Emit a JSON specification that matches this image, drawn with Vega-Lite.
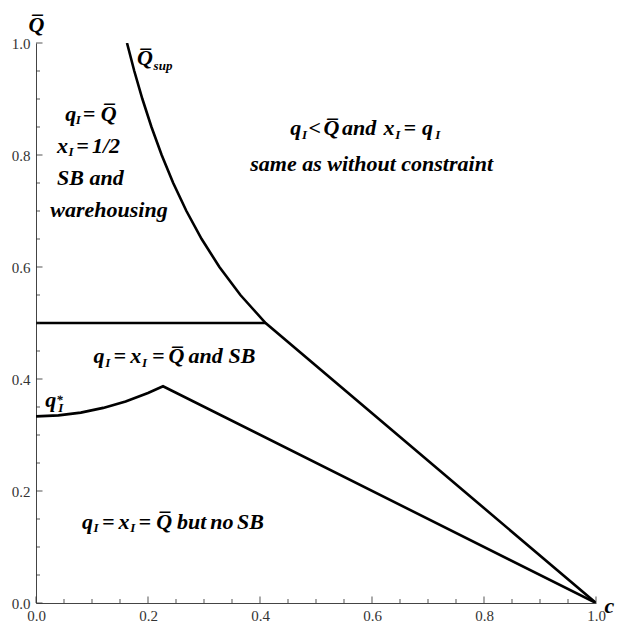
{
  "$schema": "https://vega.github.io/schema/vega-lite/v6.json",
  "width": 560,
  "height": 560,
  "autosize": {"type": "none"},
  "padding": {"left": 36, "top": 43, "right": 21, "bottom": 20},
  "background": "white",
  "config": {
    "view": {"stroke": null},
    "axis": {
      "grid": false,
      "domainColor": "#444",
      "tickColor": "#444",
      "labelColor": "#333",
      "labelFont": "Liberation Serif",
      "labelFontSize": 15,
      "titleFont": "Liberation Serif",
      "titleFontSize": 22,
      "titleFontStyle": "italic",
      "titleFontWeight": "bold",
      "titleColor": "black"
    }
  },
  "datasets": {
    "curves": [
      {"s": "sup", "c": 0.1625, "q": 1.0},
      {"s": "sup", "c": 0.1755, "q": 0.95},
      {"s": "sup", "c": 0.19, "q": 0.9},
      {"s": "sup", "c": 0.2062, "q": 0.85},
      {"s": "sup", "c": 0.2244, "q": 0.8},
      {"s": "sup", "c": 0.245, "q": 0.75},
      {"s": "sup", "c": 0.2686, "q": 0.7},
      {"s": "sup", "c": 0.2958, "q": 0.65},
      {"s": "sup", "c": 0.3275, "q": 0.6},
      {"s": "sup", "c": 0.365, "q": 0.55},
      {"s": "sup", "c": 0.41, "q": 0.5},
      {"s": "sup", "c": 1.0, "q": 0.0},
      {"s": "half", "c": 0.0, "q": 0.5},
      {"s": "half", "c": 0.41, "q": 0.5},
      {"s": "low", "c": 0.0, "q": 0.3333},
      {"s": "low", "c": 0.04, "q": 0.335},
      {"s": "low", "c": 0.08, "q": 0.34},
      {"s": "low", "c": 0.12, "q": 0.3484},
      {"s": "low", "c": 0.16, "q": 0.36},
      {"s": "low", "c": 0.2, "q": 0.3751},
      {"s": "low", "c": 0.2268, "q": 0.387},
      {"s": "low", "c": 1.0, "q": 0.0}
    ],
    "ticks": [
      {"v": 0.0, "m": 1}, {"v": 0.05, "m": 0}, {"v": 0.1, "m": 0}, {"v": 0.15, "m": 0},
      {"v": 0.2, "m": 1}, {"v": 0.25, "m": 0}, {"v": 0.3, "m": 0}, {"v": 0.35, "m": 0},
      {"v": 0.4, "m": 1}, {"v": 0.45, "m": 0}, {"v": 0.5, "m": 0}, {"v": 0.55, "m": 0},
      {"v": 0.6, "m": 1}, {"v": 0.65, "m": 0}, {"v": 0.7, "m": 0}, {"v": 0.75, "m": 0},
      {"v": 0.8, "m": 1}, {"v": 0.85, "m": 0}, {"v": 0.9, "m": 0}, {"v": 0.95, "m": 0},
      {"v": 1.0, "m": 1}
    ],
    "labels": [
      {"k": "m", "t": "Q̅", "x": 0.1804, "y": 0.9602},
      {"k": "s", "t": "sup", "x": 0.21, "y": 0.9513},
      {"k": "m", "t": "q", "x": 0.0523, "y": 0.8611},
      {"k": "s", "t": "I", "x": 0.0711, "y": 0.8548},
      {"k": "m", "t": "=", "x": 0.0836, "y": 0.8611},
      {"k": "m", "t": "Q̅", "x": 0.1157, "y": 0.8611},
      {"k": "m", "t": "x", "x": 0.0375, "y": 0.8043},
      {"k": "s", "t": "I", "x": 0.0582, "y": 0.7977},
      {"k": "m", "t": "=", "x": 0.072, "y": 0.8043},
      {"k": "m", "t": "1/2", "x": 0.1, "y": 0.8043},
      {"k": "m", "t": "SB and", "x": 0.0375, "y": 0.7471},
      {"k": "m", "t": "warehousing", "x": 0.0255, "y": 0.6896},
      {"k": "m", "t": "q", "x": 0.4541, "y": 0.8352},
      {"k": "s", "t": "I", "x": 0.475, "y": 0.828},
      {"k": "m", "t": "<", "x": 0.4868, "y": 0.8352},
      {"k": "m", "t": "Q̅", "x": 0.5136, "y": 0.8352},
      {"k": "m", "t": "and", "x": 0.5464, "y": 0.8352},
      {"k": "m", "t": "x", "x": 0.6207, "y": 0.8352},
      {"k": "s", "t": "I", "x": 0.6416, "y": 0.828},
      {"k": "m", "t": "=", "x": 0.6564, "y": 0.8352},
      {"k": "m", "t": "q", "x": 0.6893, "y": 0.8352},
      {"k": "s", "t": "I", "x": 0.713, "y": 0.828},
      {"k": "m", "t": "same as without constraint", "x": 0.3827, "y": 0.7709},
      {"k": "m", "t": "q", "x": 0.1029, "y": 0.4286},
      {"k": "s", "t": "I", "x": 0.1238, "y": 0.4218},
      {"k": "m", "t": "=", "x": 0.1386, "y": 0.4286},
      {"k": "m", "t": "x", "x": 0.1684, "y": 0.4286},
      {"k": "s", "t": "I", "x": 0.1893, "y": 0.4218},
      {"k": "m", "t": "=", "x": 0.2071, "y": 0.4286},
      {"k": "m", "t": "Q̅", "x": 0.2368, "y": 0.4286},
      {"k": "m", "t": "and", "x": 0.2725, "y": 0.4286},
      {"k": "m", "t": "SB", "x": 0.3439, "y": 0.4286},
      {"k": "m", "t": "q", "x": 0.0166, "y": 0.35},
      {"k": "s", "t": "I", "x": 0.0398, "y": 0.3414},
      {"k": "s", "t": "*", "x": 0.0363, "y": 0.3548},
      {"k": "m", "t": "q", "x": 0.0821, "y": 0.1329},
      {"k": "s", "t": "I", "x": 0.1029, "y": 0.1263},
      {"k": "m", "t": "=", "x": 0.1179, "y": 0.1329},
      {"k": "m", "t": "x", "x": 0.1475, "y": 0.1329},
      {"k": "s", "t": "I", "x": 0.1684, "y": 0.1263},
      {"k": "m", "t": "=", "x": 0.1832, "y": 0.1329},
      {"k": "m", "t": "Q̅", "x": 0.2148, "y": 0.1329},
      {"k": "m", "t": "but", "x": 0.2518, "y": 0.1329},
      {"k": "m", "t": "no", "x": 0.3113, "y": 0.1329},
      {"k": "m", "t": "SB", "x": 0.3589, "y": 0.1329}
    ]
  },
  "layer": [
    {
      "data": {"name": "curves"},
      "mark": {"type": "line", "color": "black", "strokeWidth": 2.6, "clip": true},
      "encoding": {
        "x": {
          "field": "c", "type": "quantitative",
          "scale": {"domain": [0, 1], "nice": false},
          "axis": {
            "orient": "bottom",
            "values": [0, 0.2, 0.4, 0.6, 0.8, 1.0],
            "format": ".1f",
            "ticks": false,
            "labelPadding": 5,
            "labelFlush": false,
            "labelOverlap": false,
            "title": "c",
            "titleAlign": "left",
            "titleBaseline": "alphabetic",
            "titleX": 568,
            "titleY": 9
          }
        },
        "y": {
          "field": "q", "type": "quantitative",
          "scale": {"domain": [0, 1], "nice": false},
          "axis": {
            "orient": "left",
            "values": [0, 0.2, 0.4, 0.6, 0.8, 1.0],
            "format": ".1f",
            "ticks": false,
            "labelPadding": 6,
            "labelFlush": false,
            "labelOverlap": false,
            "title": "Q̅",
            "titleAngle": 0,
            "titleAlign": "center",
            "titleBaseline": "alphabetic",
            "titleX": 0,
            "titleY": -12
          }
        },
        "detail": {"field": "s"}
      }
    },
    {
      "data": {"name": "ticks"},
      "transform": [{"filter": "datum.m === 0"}],
      "mark": {"type": "tick", "orient": "vertical", "size": 4, "thickness": 1.2, "color": "#333", "yOffset": -2},
      "encoding": {
        "x": {"field": "v", "type": "quantitative"},
        "y": {"datum": 0, "type": "quantitative"}
      }
    },
    {
      "data": {"name": "ticks"},
      "transform": [{"filter": "datum.m === 1"}],
      "mark": {"type": "tick", "orient": "vertical", "size": 6.5, "thickness": 1.2, "color": "#333", "yOffset": -3.25},
      "encoding": {
        "x": {"field": "v", "type": "quantitative"},
        "y": {"datum": 0, "type": "quantitative"}
      }
    },
    {
      "data": {"name": "ticks"},
      "transform": [{"filter": "datum.m === 0"}],
      "mark": {"type": "tick", "orient": "horizontal", "size": 4, "thickness": 1.2, "color": "#333", "xOffset": 2},
      "encoding": {
        "y": {"field": "v", "type": "quantitative"},
        "x": {"datum": 0, "type": "quantitative"}
      }
    },
    {
      "data": {"name": "ticks"},
      "transform": [{"filter": "datum.m === 1"}],
      "mark": {"type": "tick", "orient": "horizontal", "size": 6.5, "thickness": 1.2, "color": "#333", "xOffset": 3.25},
      "encoding": {
        "y": {"field": "v", "type": "quantitative"},
        "x": {"datum": 0, "type": "quantitative"}
      }
    },
    {
      "data": {"name": "labels"},
      "transform": [{"filter": "datum.k === 'm'"}],
      "mark": {"type": "text", "font": "Liberation Serif", "fontSize": 22, "fontStyle": "italic", "fontWeight": "bold", "align": "left", "baseline": "alphabetic", "color": "black"},
      "encoding": {
        "x": {"field": "x", "type": "quantitative"},
        "y": {"field": "y", "type": "quantitative"},
        "text": {"field": "t"}
      }
    },
    {
      "data": {"name": "labels"},
      "transform": [{"filter": "datum.k === 's'"}],
      "mark": {"type": "text", "font": "Liberation Serif", "fontSize": 13, "fontStyle": "italic", "fontWeight": "bold", "align": "left", "baseline": "alphabetic", "color": "black"},
      "encoding": {
        "x": {"field": "x", "type": "quantitative"},
        "y": {"field": "y", "type": "quantitative"},
        "text": {"field": "t"}
      }
    }
  ]
}
